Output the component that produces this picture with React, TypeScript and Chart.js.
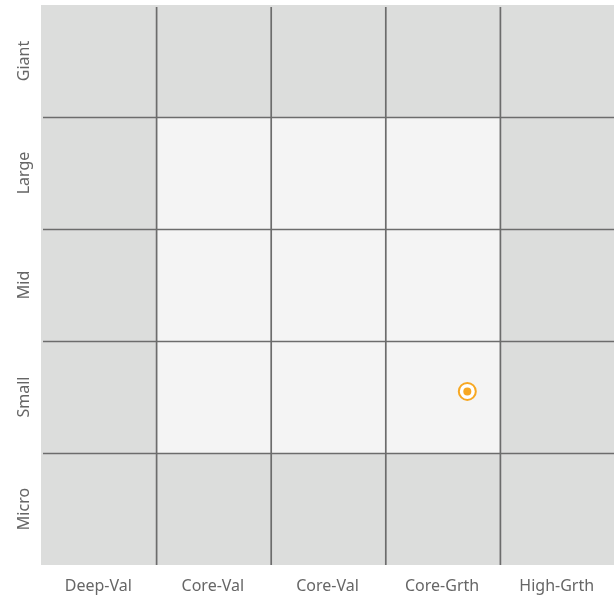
import React, { useEffect, useRef } from "react";
import { Chart, registerables } from "chart.js";

Chart.register(...registerables);

const styleCategories = ["Deep-Val", "Core-Val", "Core-Val", "Core-Grth", "High-Grth"];
const sizeCategories = ["Micro", "Small", "Mid", "Large", "Giant"];
// highlighted (inner) cells: [col, row] with row 0 = Micro
const innerCells: [number, number][] = [
  [1, 1], [2, 1], [3, 1],
  [1, 2], [2, 2], [3, 2],
  [1, 3], [2, 3], [3, 3],
];
const pointX = [3.72];
const pointY = [1.55];

const OUTER = "#dcdddc";
const INNER = "#f4f4f4";
const LINE = "#6c6c6c";
const ORANGE = "#f7a823";
const FONT = "'Noto Sans', sans-serif";

const gridPlugin = {
  id: "styleGrid",
  beforeDatasetsDraw(chart: any) {
    const { ctx, chartArea, scales } = chart;
    const xs = scales.x;
    const ys = scales.y;
    ctx.save();
    ctx.fillStyle = OUTER;
    ctx.fillRect(chartArea.left, chartArea.top, chartArea.right - chartArea.left, chartArea.bottom - chartArea.top);
    ctx.fillStyle = INNER;
    innerCells.forEach(([c, r]) => {
      const x0 = xs.getPixelForValue(c) + 1;
      const x1 = xs.getPixelForValue(c + 1) + 1;
      const y0 = ys.getPixelForValue(r + 1) + 0.5;
      const y1 = ys.getPixelForValue(r) + 0.5;
      ctx.fillRect(x0, y0, x1 - x0, y1 - y0);
    });
    ctx.strokeStyle = LINE;
    ctx.lineWidth = 1.7;
    for (let i = 1; i < styleCategories.length; i++) {
      const x = xs.getPixelForValue(i) + 1;
      ctx.beginPath();
      ctx.moveTo(x, chartArea.top + 2);
      ctx.lineTo(x, chartArea.bottom);
      ctx.stroke();
    }
    for (let j = 1; j < sizeCategories.length; j++) {
      const y = ys.getPixelForValue(j) + 0.5;
      ctx.beginPath();
      ctx.moveTo(chartArea.left + 2, y);
      ctx.lineTo(chartArea.right, y);
      ctx.stroke();
    }
    // y labels rotated
    ctx.fillStyle = "#666666";
    ctx.font = `16px ${FONT}`;
    ctx.textAlign = "center";
    ctx.textBaseline = "middle";
    sizeCategories.forEach((lab, j) => {
      const y = ys.getPixelForValue(j + 0.5);
      ctx.save();
      ctx.translate(24, y);
      ctx.rotate(-Math.PI / 2);
      ctx.fillText(lab, 0, 0);
      ctx.restore();
    });
    ctx.restore();
  },
};

export default function App() {
  const ref = useRef<HTMLCanvasElement>(null);
  useEffect(() => {
    document.body.style.margin = "0";
    const chart = new Chart(ref.current!, {
      type: "scatter",
      data: {
        datasets: [
          {
            data: pointX.map((x, i) => ({ x, y: pointY[i] })),
            pointRadius: 4,
            pointBorderWidth: 0,
            pointBackgroundColor: ORANGE,
          },
          {
            data: pointX.map((x, i) => ({ x, y: pointY[i] })),
            pointRadius: 8.5,
            pointBorderWidth: 2,
            pointBorderColor: ORANGE,
            pointBackgroundColor: "#ffffff",
          },
        ],
      },
      options: {
        animation: false,
        responsive: false,
        layout: { autoPadding: false, padding: { top: 5, right: 0, left: 0, bottom: 0 } },
        plugins: { legend: { display: false }, tooltip: { enabled: false } },
        scales: {
          x: {
            type: "linear",
            min: 0,
            max: 5,
            grid: { display: false },
            border: { display: false },
            afterBuildTicks: (s: any) => {
              s.ticks = styleCategories.map((_, i) => ({ value: i + 0.5 }));
            },
            afterFit: (s: any) => {
              s.height = 33;
            },
            ticks: {
              autoSkip: false,
              maxRotation: 0,
              color: "#666666",
              font: { family: FONT, size: 16 },
              padding: 4,
              callback: (v: any) => styleCategories[Math.floor(Number(v))],
            },
          },
          y: {
            type: "linear",
            min: 0,
            max: 5,
            grid: { display: false },
            border: { display: false },
            ticks: { display: false },
            afterFit: (s: any) => {
              s.width = 41;
            },
          },
        },
      },
      plugins: [gridPlugin],
    });
    return () => chart.destroy();
  }, []);
  return (
    <div style={{ width: 614, height: 598 }}>
      <canvas ref={ref} width={614} height={598} style={{ display: "block" }} />
    </div>
  );
}
